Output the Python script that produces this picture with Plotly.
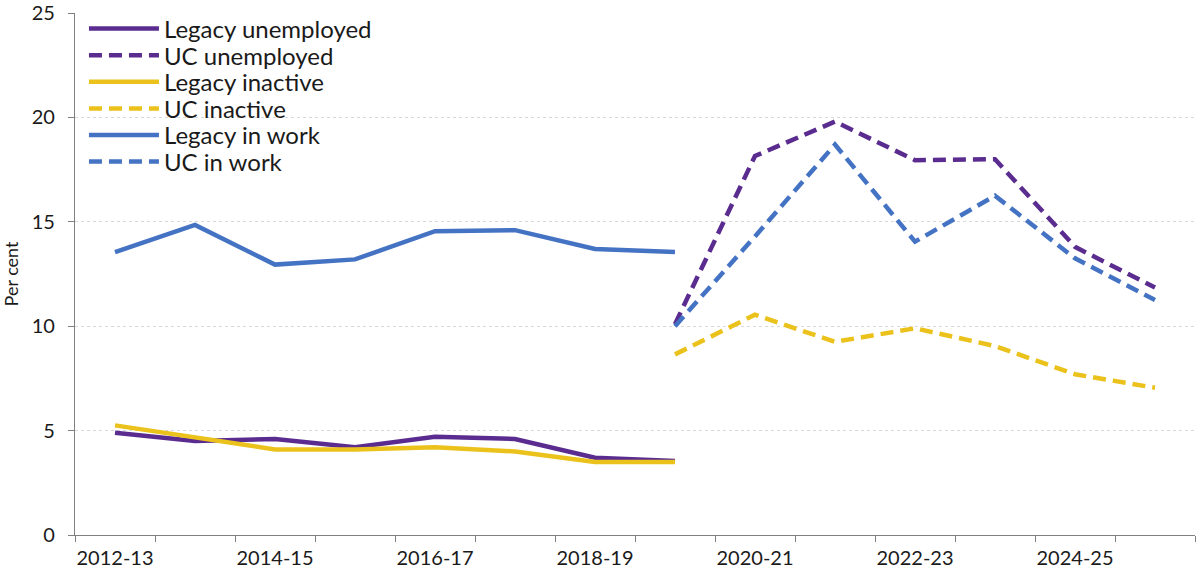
import plotly.graph_objects as go

years = ["2012-13", "2013-14", "2014-15", "2015-16", "2016-17", "2017-18", "2018-19",
         "2019-20", "2020-21", "2021-22", "2022-23", "2023-24", "2024-25", "2025-26"]

legacy_years = years[:8]
uc_years = years[7:]

legacy_unemployed = [4.9, 4.5, 4.6, 4.2, 4.7, 4.6, 3.7, 3.55]
legacy_inactive = [5.25, 4.7, 4.1, 4.1, 4.2, 4.0, 3.5, 3.5]
legacy_in_work = [13.55, 14.85, 12.95, 13.2, 14.55, 14.6, 13.7, 13.55]

uc_unemployed = [10.1, 18.15, 19.8, 17.95, 18.0, 13.8, 11.85]
uc_inactive = [8.65, 10.55, 9.25, 9.9, 9.05, 7.7, 7.05]
uc_in_work = [10.0, 14.3, 18.7, 14.05, 16.25, 13.25, 11.25]

tick_text = [y if i % 2 == 0 else "" for i, y in enumerate(years)]

PURPLE = "#5b2c8f"
YELLOW = "#ebc21b"
BLUE = "#4573c4"
LW = 4.5
DASH = "13px,7px"
FONT = "Lato"

# layout geometry (pixels)
W, H = 1200, 573
M_L, M_R, M_T, M_B = 75, 5, 13, 38
PLOT_H = H - M_T - M_B
LEG_FIRST = 29      # px from top of figure for first legend row centre
LEG_STEP = 26.6     # px between legend rows

fig = go.Figure()
series = [
    ("Legacy unemployed", legacy_years, legacy_unemployed, PURPLE, "solid"),
    ("UC unemployed", uc_years, uc_unemployed, PURPLE, DASH),
    ("Legacy inactive", legacy_years, legacy_inactive, YELLOW, "solid"),
    ("UC inactive", uc_years, uc_inactive, YELLOW, DASH),
    ("Legacy in work", legacy_years, legacy_in_work, BLUE, "solid"),
    ("UC in work", uc_years, uc_in_work, BLUE, DASH),
]
legends = {}
for i, (name, xs, ys, col, dash) in enumerate(series):
    key = "legend" if i == 0 else f"legend{i + 1}"
    fig.add_trace(go.Scatter(x=xs, y=ys, name=name, mode="lines", legend=key,
                             line=dict(color=col, width=LW, dash=dash)))
    centre_px = LEG_FIRST + i * LEG_STEP
    ypaper = (H - M_B - centre_px) / PLOT_H
    legends[key] = dict(x=0.008, y=ypaper, xanchor="left", yanchor="middle",
                        bgcolor="rgba(255,255,255,0)",
                        font=dict(size=24, family=FONT, color="#1a1a1a"),
                        itemwidth=70, tracegroupgap=0)

fig.update_layout(
    width=W, height=H,
    margin=dict(l=M_L, r=M_R, t=M_T, b=M_B),
    paper_bgcolor="white", plot_bgcolor="white",
    font=dict(family=FONT, color="#1a1a1a"),
    showlegend=True,
    xaxis=dict(type="category", categoryorder="array", categoryarray=years,
               tickmode="array", tickvals=years, ticktext=tick_text,
               tickson="boundaries", ticks="outside", ticklen=6, tickcolor="#808080",
               showline=True, linecolor="#808080", linewidth=1.3,
               showgrid=False, range=[-0.5, 13.5], automargin=False,
               tickangle=0, ticklabelstandoff=5,
               tickfont=dict(size=20, family=FONT)),
    yaxis=dict(range=[0, 25], tickvals=[0, 5, 10, 15, 20, 25],
               ticks="outside", ticklen=6, tickcolor="#808080",
               showline=True, linecolor="#808080", linewidth=1.3,
               showgrid=True, gridcolor="#d9d9d9", griddash="dot", gridwidth=1,
               zeroline=False, automargin=False, ticklabelstandoff=9,
               tickfont=dict(size=20, family=FONT),
               title=dict(text="Per cent", font=dict(size=18, family=FONT), standoff=12)),
    **legends,
)

fig.write_html("out.html")
